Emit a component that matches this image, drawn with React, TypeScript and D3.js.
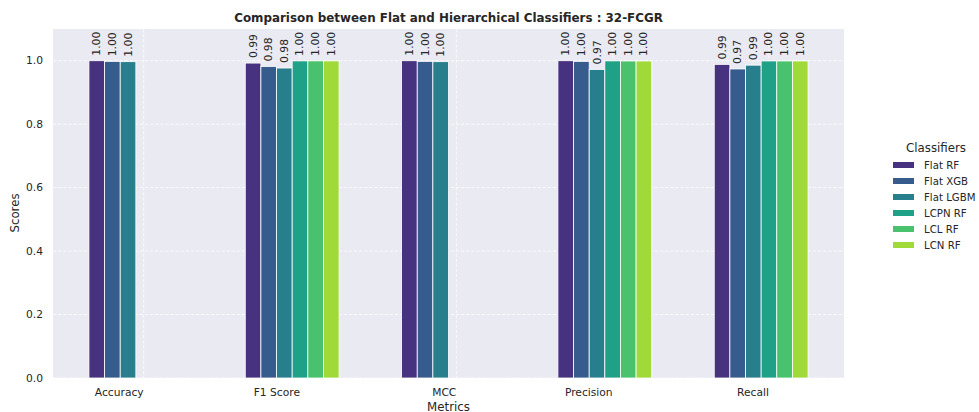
import React from "react";
import * as d3 from "d3";

const metrics = ["Accuracy", "F1 Score", "MCC", "Precision", "Recall"];
const classifiers = ["Flat RF", "Flat XGB", "Flat LGBM", "LCPN RF", "LCL RF", "LCN RF"];
// values per classifier, in metric order (null = not available)
const flatRF = [1.0, 0.9926, 1.0, 1.0, 0.9885];
const flatXGB = [0.998, 0.982, 0.998, 0.998, 0.974];
const flatLGBM = [0.997, 0.977, 0.997, 0.9726, 0.986];
const lcpnRF = [null, 0.9995, null, 0.9995, 0.9993];
const lclRF = [null, 0.9995, null, 0.9992, 0.9992];
const lcnRF = [null, 0.9995, null, 0.9992, 0.9992];
const series = [flatRF, flatXGB, flatLGBM, lcpnRF, lclRF, lcnRF];
const yTicks = [0.0, 0.2, 0.4, 0.6, 0.8, 1.0];

const W = 979;
const H = 412;
const left = 53, right = 844, top = 29, bottom = 378;
const barW = 0.1;
const font = "DejaVu Sans, sans-serif";
const textColor = "#262626";

export default function App() {
  const x = d3.scaleLinear().domain([-0.28, 4.78]).range([left, right]);
  const y = d3.scaleLinear().domain([0, 1.1]).range([bottom, top]);
  const color = (i: number) => d3.interpolateViridis((i + 1) / (classifiers.length + 1));
  const tickPos = metrics.map((_, i) => i + barW * classifiers.length / 2);
  const bw = x(barW) - x(0);

  return (
    <svg width={W} height={H} style={{ position: "absolute", left: 0, top: 0, background: "#fff" }} fontFamily={font}>
      <rect x={left} y={top} width={right - left} height={bottom - top} fill="#EAEAF2" />
      {yTicks.map((t) => (
        <line key={"gy" + t} x1={left} x2={right} y1={y(t)} y2={y(t)} stroke="#fff" strokeWidth={0.9} strokeDasharray="3.5 1.6" opacity={0.85} />
      ))}
      {tickPos.map((t, i) => (
        <line key={"gx" + i} x1={x(t)} x2={x(t)} y1={top} y2={bottom} stroke="#fff" strokeWidth={0.9} strokeDasharray="3.5 1.6" opacity={0.85} />
      ))}
      {series.map((vals, si) =>
        vals.map((v, mi) =>
          v == null ? null : (
            <g key={`b${si}-${mi}`}>
              <rect
                x={x(mi + si * barW - barW / 2)}
                y={y(v)}
                width={bw}
                height={y(0) - y(v)}
                fill={color(si)}
                stroke="#fff"
                strokeWidth={0.8}
              />
              <text
                transform={`translate(${x(mi + si * barW)},${y(v) - 5}) rotate(-90)`}
                fontSize={10.8}
                fill={textColor}
                textAnchor="start"
                dominantBaseline="central"
              >
                {v.toFixed(2)}
              </text>
            </g>
          )
        )
      )}
      {yTicks.map((t) => (
        <text key={"ty" + t} x={43} y={y(t)} fontSize={10.7} fill={textColor} textAnchor="end" dominantBaseline="central">
          {t.toFixed(1)}
        </text>
      ))}
      {metrics.map((m, i) => (
        <text key={"tx" + m} x={x(tickPos[i])} y={392} fontSize={10.7} fill={textColor} textAnchor="end" dominantBaseline="central">
          {m}
        </text>
      ))}
      <text x={(left + right) / 2} y={406.5} fontSize={11.8} fill={textColor} textAnchor="middle" dominantBaseline="central">
        Metrics
      </text>
      <text transform={`translate(15,213) rotate(-90)`} fontSize={11.8} fill={textColor} textAnchor="middle" dominantBaseline="central">
        Scores
      </text>
      <text x={(left + right) / 2} y={18} fontSize={11.9} fontWeight="bold" fill={textColor} textAnchor="middle" dominantBaseline="central">
        Comparison between Flat and Hierarchical Classifiers : 32-FCGR
      </text>
      <text x={936} y={148} fontSize={11.8} fill={textColor} textAnchor="middle" dominantBaseline="central">
        Classifiers
      </text>
      {classifiers.map((c, i) => (
        <g key={"lg" + c}>
          <rect x={893} y={165 + i * 16 - 3} width={21} height={6} fill={color(i)} />
          <text x={924} y={165 + i * 16} fontSize={10.2} fill={textColor} dominantBaseline="central">
            {c}
          </text>
        </g>
      ))}
    </svg>
  );
}
